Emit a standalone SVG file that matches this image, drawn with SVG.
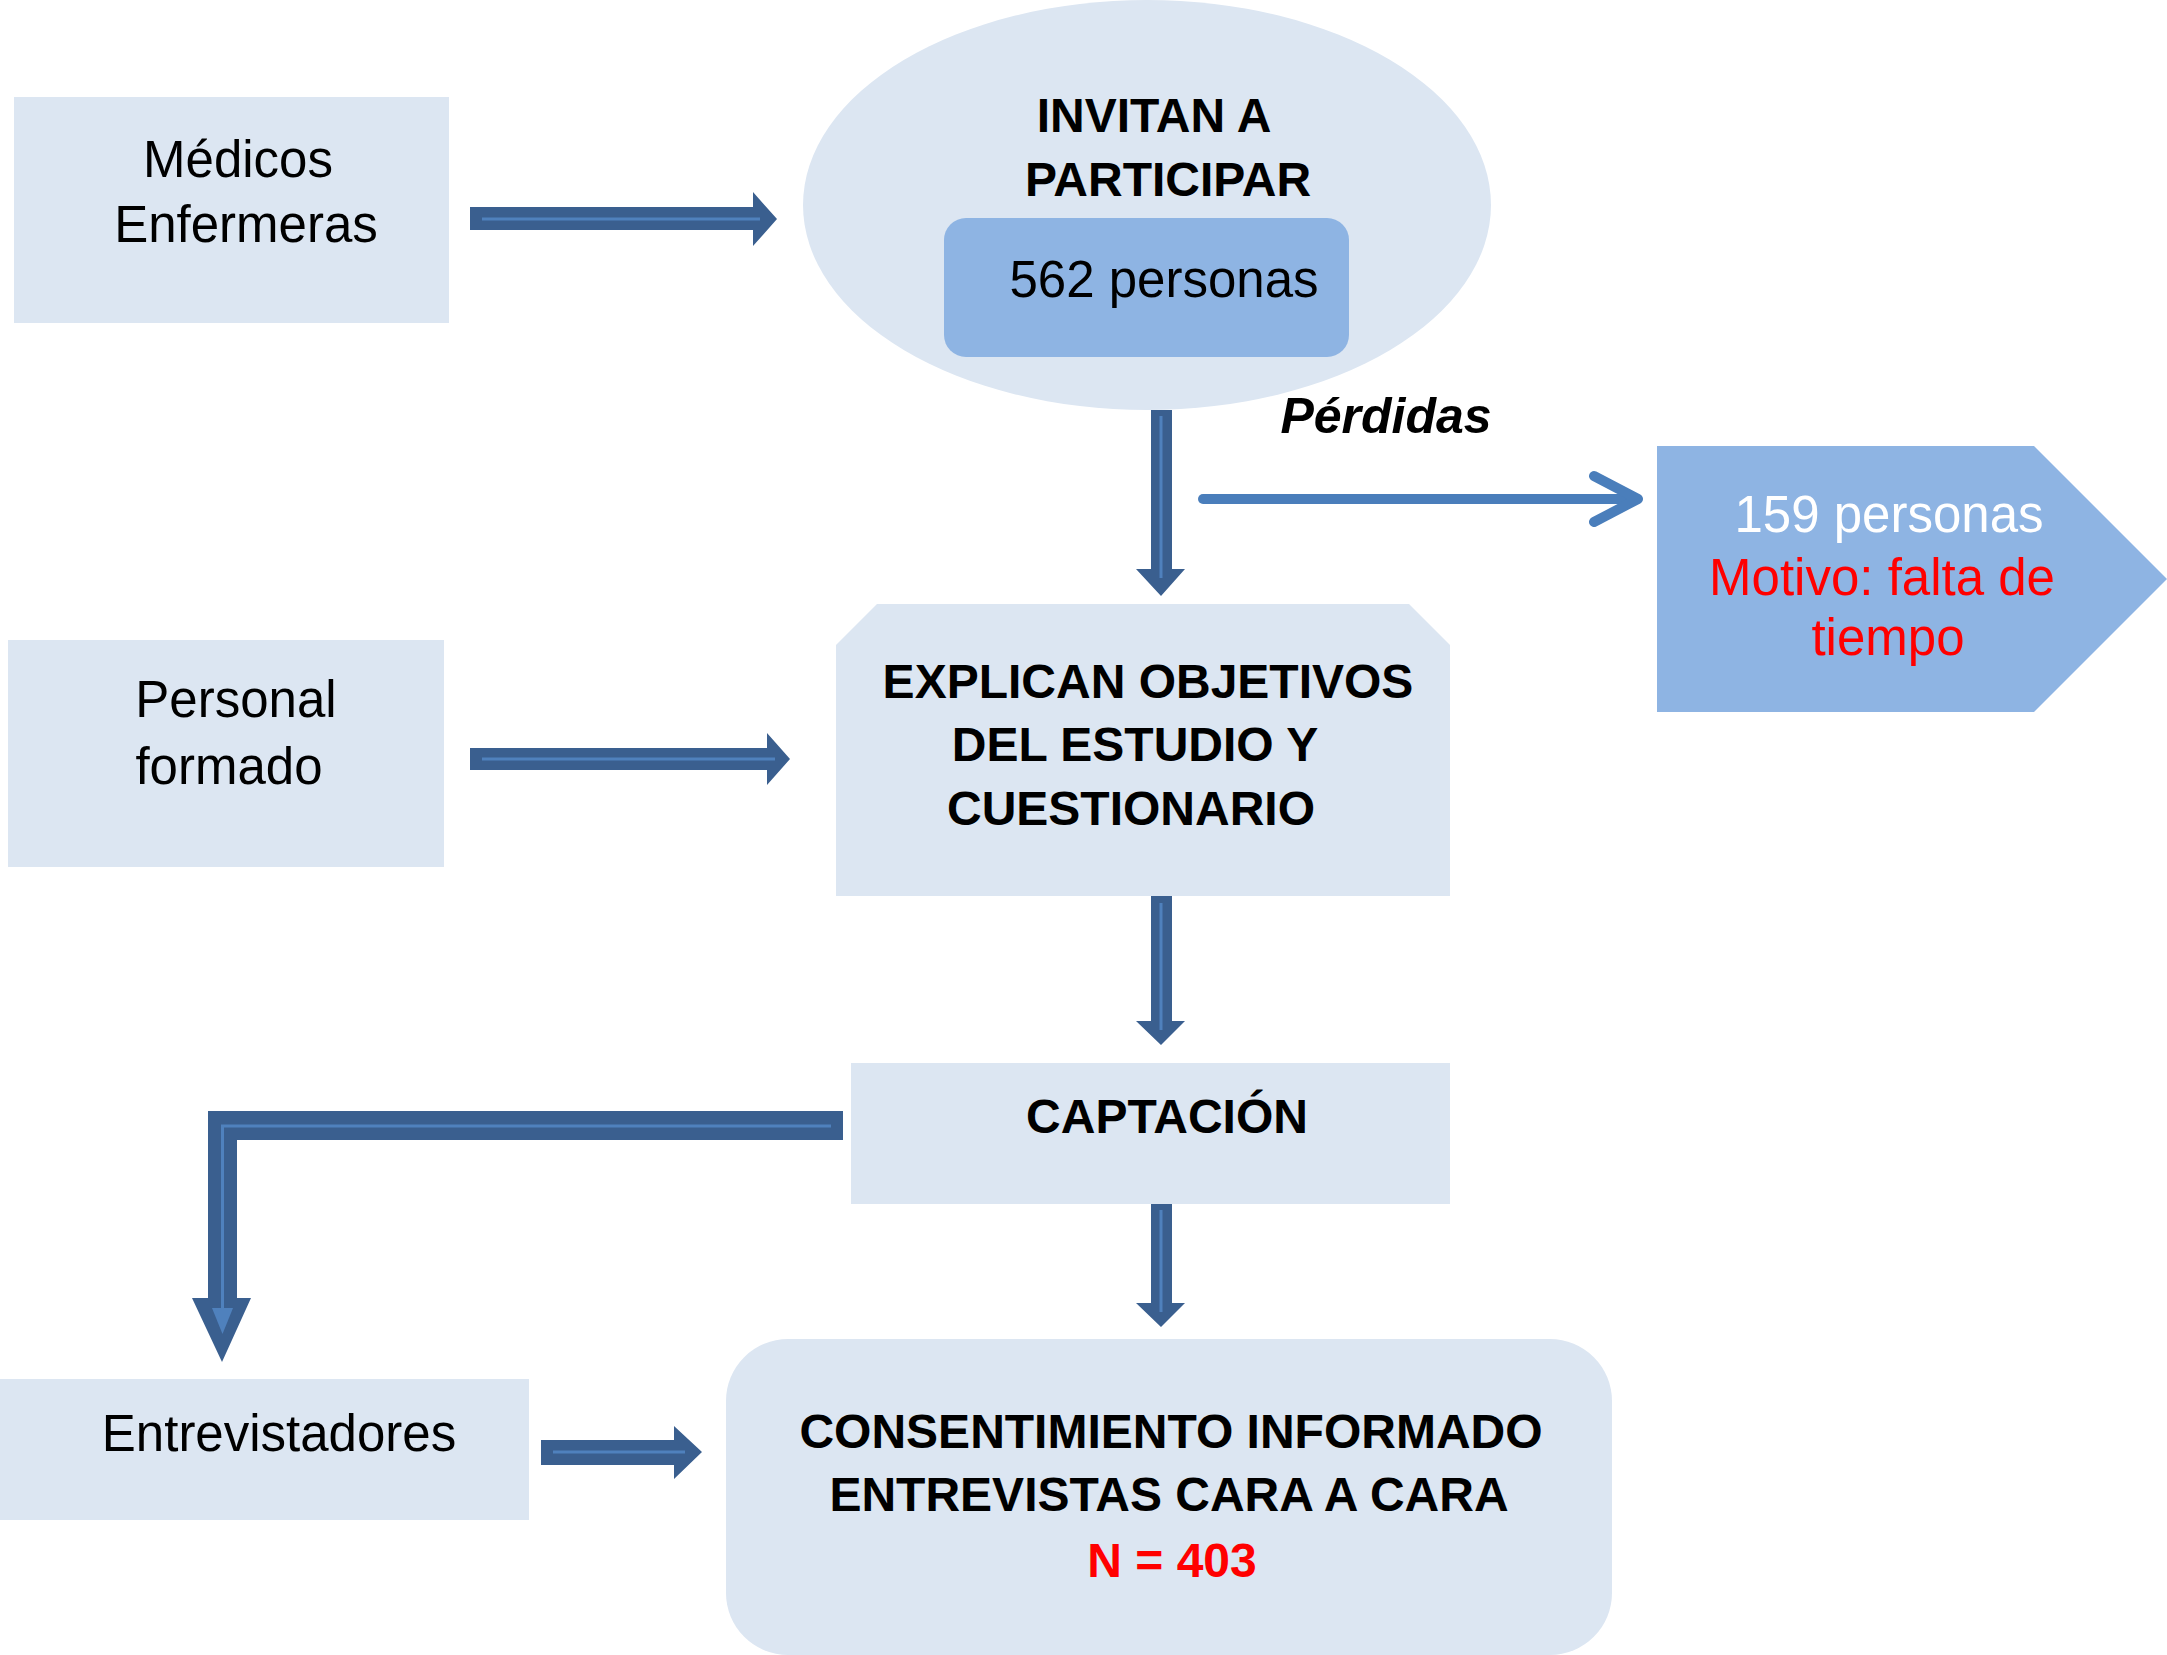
<svg xmlns="http://www.w3.org/2000/svg" width="2167" height="1655" viewBox="0 0 2167 1655">
<style>
.box{fill:#dce6f2}
.mid{fill:#8eb4e3}
.reg{font-family:"Liberation Sans",Arial,sans-serif;font-size:51px;fill:#000;text-anchor:middle}
.bold{font-family:"Liberation Sans",Arial,sans-serif;font-size:48px;font-weight:bold;fill:#000;text-anchor:middle}
.arrow{fill:#3a5f8f}
.inner{stroke:#4f81bd;stroke-width:3;fill:none}
.red{fill:#ff0000}
</style>
<rect width="2167" height="1655" fill="#ffffff"/>
<g id="connectors">
  <g id="arrow-medicos">
    <polygon class="arrow" points="470,207 753,207 753,192 777,219 753,246 753,230 470,230"/>
    <line class="inner" x1="482" y1="219" x2="760" y2="219"/>
  </g>
  <g id="arrow-personal">
    <polygon class="arrow" points="470,748 767,748 767,733 790,759 767,785 767,770 470,770"/>
    <line class="inner" x1="482" y1="759" x2="775" y2="759"/>
  </g>
  <g id="arrow-entrevistadores">
    <polygon class="arrow" points="541,1440 674,1440 674,1426 702,1452 674,1479 674,1465 541,1465"/>
    <line class="inner" x1="553" y1="1452" x2="685" y2="1452"/>
  </g>
  <g id="arrow-down-1">
    <polygon class="arrow" points="1151,410 1172,410 1172,569 1185,569 1161,596 1136,569 1151,569"/>
    <line class="inner" x1="1161" y1="416" x2="1161" y2="578" stroke-width="2"/>
  </g>
  <g id="arrow-down-2">
    <polygon class="arrow" points="1151,891 1172,891 1172,1021 1185,1021 1161,1045 1136,1021 1151,1021"/>
    <line class="inner" x1="1161" y1="903" x2="1161" y2="1030" stroke-width="2"/>
  </g>
  <g id="arrow-down-3">
    <polygon class="arrow" points="1151,1200 1172,1200 1172,1303 1185,1303 1161,1327 1136,1303 1151,1303"/>
    <line class="inner" x1="1161" y1="1210" x2="1161" y2="1312" stroke-width="2"/>
  </g>
  <g id="arrow-elbow">
    <polygon class="arrow" points="843,1111 208,1111 208,1298 192,1298 222,1362 251,1298 237,1298 237,1140 843,1140"/>
    <polyline class="inner" points="831,1126 222.5,1126 222.5,1310" stroke-width="7"/>
    <polygon fill="#4f81bd" points="212,1308 233,1308 222.5,1334"/>
  </g>
  <g id="arrow-perdidas" stroke="#4a7ebb" stroke-width="10" stroke-linecap="round" stroke-linejoin="round" fill="none">
    <line x1="1203" y1="499" x2="1636" y2="499"/>
    <polyline points="1594,476 1638,499 1594,522"/>
  </g>
</g>
<g id="node-medicos">
  <rect class="box" x="14" y="97" width="435" height="226"/>
  <text class="reg" x="238" y="177">Médicos</text>
  <text class="reg" x="246" y="242">Enfermeras</text>
</g>
<g id="node-invitan">
  <ellipse class="box" cx="1147" cy="205" rx="344" ry="205"/>
  <text class="bold" x="1154" y="132">INVITAN A</text>
  <text class="bold" x="1168" y="196">PARTICIPAR</text>
  <g id="node-562">
    <rect class="mid" x="944" y="218" width="405" height="139" rx="22"/>
    <text class="reg" x="1164" y="297">562 personas</text>
  </g>
</g>
<g id="label-perdidas">
  <text x="1386" y="433" font-family="'Liberation Sans',Arial,sans-serif" font-size="50" font-weight="bold" font-style="italic" text-anchor="middle">Pérdidas</text>
</g>
<g id="node-perdidas">
  <polygon class="mid" points="1657,446 2034,446 2167,579 2034,712 1657,712"/>
  <text class="reg" x="1889" y="532" style="fill:#ffffff">159 personas</text>
  <text class="reg red" x="1882" y="595" style="fill:#ff0000">Motivo: falta de</text>
  <text class="reg red" x="1888" y="655" style="fill:#ff0000">tiempo</text>
</g>
<g id="node-personal">
  <rect class="box" x="8" y="640" width="436" height="227"/>
  <text class="reg" x="236" y="717">Personal</text>
  <text class="reg" x="229" y="784">formado</text>
</g>
<g id="node-explican">
  <polygon class="box" points="877,604 1409,604 1450,645 1450,896 836,896 836,645"/>
  <text class="bold" x="1148" y="698">EXPLICAN OBJETIVOS</text>
  <text class="bold" x="1135" y="761">DEL ESTUDIO Y</text>
  <text class="bold" x="1131" y="825">CUESTIONARIO</text>
</g>
<g id="node-captacion">
  <rect class="box" x="851" y="1063" width="599" height="141"/>
  <text class="bold" x="1167" y="1133">CAPTACIÓN</text>
</g>
<g id="node-entrevistadores">
  <rect class="box" x="0" y="1379" width="529" height="141"/>
  <text class="reg" x="279" y="1451">Entrevistadores</text>
</g>
<g id="node-consentimiento">
  <rect class="box" x="726" y="1339" width="886" height="316" rx="62"/>
  <text class="bold" x="1171" y="1448">CONSENTIMIENTO INFORMADO</text>
  <text class="bold" x="1169" y="1511">ENTREVISTAS CARA A CARA</text>
  <text class="bold" x="1172" y="1577" style="fill:#ff0000">N = 403</text>
</g>
</svg>
